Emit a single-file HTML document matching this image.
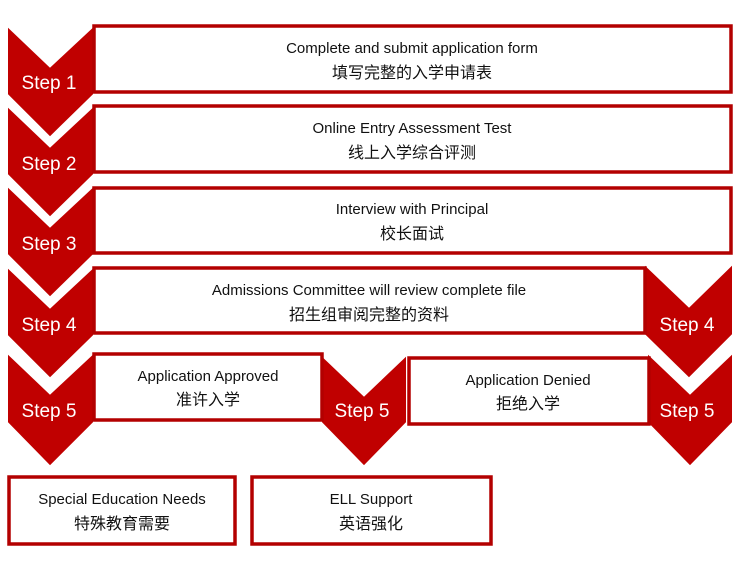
<!DOCTYPE html>
<html><head><meta charset="utf-8"><style>
html,body{margin:0;padding:0;background:#fff;}
svg{display:block;}
text{font-family:"Liberation Sans","Noto Sans CJK SC",sans-serif;}
.t{font-size:15px;fill:#111;text-anchor:middle;}
.c{font-size:16px;fill:#111;text-anchor:middle;}
.s{font-size:19px;fill:#fff;text-anchor:middle;}
.b{fill:#fff;stroke:#b30000;stroke-width:3.5;}
.v{fill:#c00000;stroke:#fff;stroke-width:4;}
</style></head><body>
<svg width="746" height="573" viewBox="0 0 746 573">
<!-- chevrons -->
<g>
<polygon class="v" points="6,23 50,65 95,23 95,95 50,139 6,95"/>
<polygon class="v" points="6,103 50,145 95,103 95,175 50,219 6,175"/>
<polygon class="v" points="6,183 50,225 95,183 95,255 50,299 6,255"/>
<polygon class="v" points="6,264 50,306 95,264 95,336 50,380 6,336"/>
<polygon class="v" points="6,350 50,392 95,350 95,423 50,468 6,423"/>
<polygon class="v" points="320,352 364,394 408,352 408,423 364,468 320,423"/>
<polygon class="v" points="643,261 689,305 734,261 734,335 689,380 643,335"/>
<polygon class="v" points="646,350 690,392 734,350 734,423 690,468 646,423"/>
</g>
<!-- boxes -->
<rect class="b" x="94" y="26" width="637" height="66"/>
<rect class="b" x="94" y="106" width="637" height="66"/>
<rect class="b" x="94" y="188" width="637" height="65"/>
<rect class="b" x="94" y="268" width="551" height="65"/>
<rect class="b" x="94" y="354" width="228" height="66"/>
<rect class="b" x="409" y="358" width="240" height="66"/>
<rect class="b" x="9" y="477" width="226" height="67"/>
<rect class="b" x="252" y="477" width="239" height="67"/>
<text class="s" x="49" y="89">Step 1</text>
<text class="s" x="49" y="170">Step 2</text>
<text class="s" x="49" y="250">Step 3</text>
<text class="s" x="49" y="331">Step 4</text>
<text class="s" x="49" y="417">Step 5</text>
<text class="s" x="362" y="417">Step 5</text>
<text class="s" x="687" y="331">Step 4</text>
<text class="s" x="687" y="417">Step 5</text>
<text class="t" x="412" y="53">Complete and submit application form</text>
<text class="c" x="412" y="78">填写完整的入学申请表</text>
<text class="t" x="412" y="133">Online Entry Assessment Test</text>
<text class="c" x="412" y="158">线上入学综合评测</text>
<text class="t" x="412" y="214">Interview with Principal</text>
<text class="c" x="412" y="239">校长面试</text>
<text class="t" x="369" y="295">Admissions Committee will review complete file</text>
<text class="c" x="369" y="320">招生组审阅完整的资料</text>
<text class="t" x="208" y="381">Application Approved</text>
<text class="c" x="208" y="405">准许入学</text>
<text class="t" x="528" y="385">Application Denied</text>
<text class="c" x="528" y="409">拒绝入学</text>
<text class="t" x="122" y="504">Special Education Needs</text>
<text class="c" x="122" y="529">特殊教育需要</text>
<text class="t" x="371" y="504">ELL Support</text>
<text class="c" x="371" y="529">英语强化</text>
</svg>
</body></html>
